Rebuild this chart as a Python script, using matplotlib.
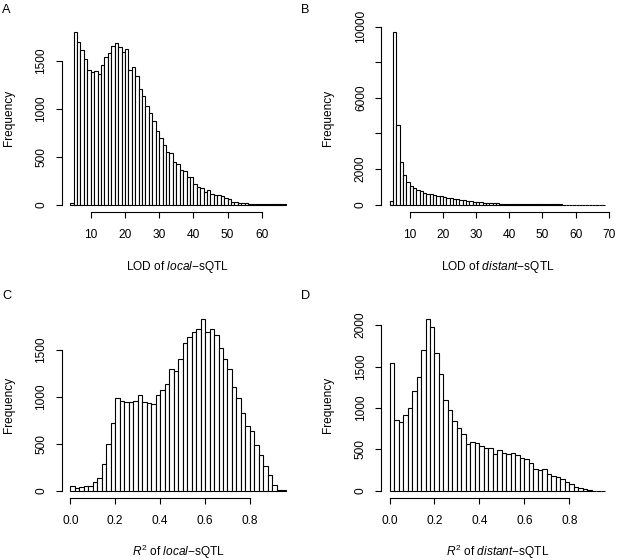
import matplotlib
matplotlib.use("Agg")
import matplotlib.pyplot as plt
import numpy as np

plt.rcParams['font.family'] = ['Liberation Sans', 'DejaVu Sans']
plt.rcParams['mathtext.fontset'] = 'custom'
plt.rcParams['mathtext.rm'] = 'Liberation Sans'
plt.rcParams['mathtext.it'] = 'Liberation Sans:italic'

# ---- data ----
# Panel A: LOD of local-sQTL, bins of width 1 starting at 4
lod_local_start = 4
lod_local_counts = [20, 1800, 1695, 1608, 1521, 1399, 1381, 1388, 1357, 1451,
                    1538, 1580, 1650, 1678, 1643, 1590, 1622, 1406, 1434, 1336,
                    1207, 1127, 1022, 952, 869, 764, 694, 624, 544, 534,
                    440, 422, 359, 345, 283, 283, 213, 185, 171, 126,
                    150, 108, 98, 98, 91, 73, 56, 31, 28, 21,
                    17, 14, 10, 10, 7, 5, 4, 3, 3, 2,
                    2, 1, 1]
# Panel B: LOD of distant-sQTL, bins of width 1 starting at 4
lod_distant_start = 4
lod_distant_counts = [190, 9718, 4482, 2392, 1638, 1243, 1055, 923, 810, 772,
                      678, 621, 584, 546, 508, 490, 452, 395, 358, 320,
                      300, 270, 240, 210, 185, 165, 145, 125, 110, 95,
                      85, 75, 65, 55, 48, 42, 36, 31, 27, 23,
                      20, 17, 15, 13, 11, 10, 9, 8, 7, 6,
                      5, 5, 4, 4, 3, 3, 3, 2, 2, 2,
                      2, 1, 1, 1, 1]
# Panel C: R^2 of local-sQTL, bins of width 0.02 starting at 0
r2_local_counts = [53, 32, 43, 57, 50, 92, 139, 284, 501, 725,
                   988, 960, 942, 949, 960, 1024, 942, 931, 924, 1020,
                   1077, 1134, 1294, 1276, 1401, 1578, 1642, 1695, 1720, 1831,
                   1688, 1720, 1660, 1525, 1401, 1294, 1109, 985, 825, 693,
                   636, 487, 387, 267, 167, 64, 14, 7]
# Panel D: R^2 of distant-sQTL, bins of width 0.02 starting at 0
r2_distant_counts = [1545, 853, 833, 913, 1006, 1203, 1376, 1706, 2076, 1980,
                     1666, 1416, 1103, 982, 841, 761, 684, 571, 588, 575,
                     539, 523, 523, 451, 491, 463, 451, 463, 431, 398,
                     382, 338, 270, 250, 262, 201, 181, 169, 141, 113,
                     85, 52, 32, 24, 12, 4, 2, 1]

lod_a_xticks = [10, 20, 30, 40, 50, 60]
lod_b_xticks = [10, 20, 30, 40, 50, 60, 70]
r2_xticks = [0.0, 0.2, 0.4, 0.6, 0.8]
r2_xticklabels = ['0.0', '0.2', '0.4', '0.6', '0.8']
a_yticks = [0, 500, 1000, 1500]
b_yticks = [0, 2000, 4000, 6000, 8000, 10000]
b_yticklabels = ['0', '2000', '', '6000', '', '10000']
c_yticks = [0, 500, 1000, 1500]
d_yticks = [0, 500, 1000, 1500, 2000]

W, H = 617, 560
fig = plt.figure(figsize=(W / 100, H / 100), dpi=100)

FS = 8.6
LW = 0.8


def px_axes(l, t, r, b):
    return fig.add_axes([l / W, 1 - b / H, (r - l) / W, (b - t) / H])


def r_hist(ax, edges, counts, width, xticks, xticklabels, yticks, yticklabels,
           xlabel, xlab_y):
    edges = np.asarray(edges, dtype=float)
    counts = np.asarray(counts, dtype=float)
    ax.bar(edges, counts, width=width, align='edge', facecolor='white',
           edgecolor='black', linewidth=LW)
    xmin, xmax = edges[0], edges[-1] + width
    pad = 0.04 * (xmax - xmin)
    ax.set_xlim(xmin - pad, xmax + pad)
    ymax = counts.max()
    ax.set_ylim(-0.04 * ymax, 1.04 * ymax)
    for s in ('top', 'right'):
        ax.spines[s].set_visible(False)
    ax.spines['left'].set_bounds(yticks[0], yticks[-1])
    ax.spines['bottom'].set_bounds(xticks[0], xticks[-1])
    ax.spines['left'].set_linewidth(LW)
    ax.spines['bottom'].set_linewidth(LW)
    ax.set_xticks(xticks)
    ax.set_xticklabels(xticklabels)
    ax.set_yticks(yticks)
    ax.set_yticklabels(yticklabels, rotation=90, va='center')
    ax.tick_params(axis='both', length=4.3, width=LW, labelsize=FS, direction='out')
    ax.tick_params(axis='x', pad=8.3)
    ax.tick_params(axis='y', pad=6)
    ax.set_xlabel(xlabel, fontsize=FS)
    ax.xaxis.set_label_coords(0.5, xlab_y)
    ax.xaxis.label.set_va('center')
    ax.set_ylabel('Frequency', fontsize=FS)
    ax.yaxis.set_label_coords(-0.228, 0.5)
    ax.yaxis.label.set_va('center')


# Panel A
axA = px_axes(61.6, 24.8, 294.3, 211.5)
edgesA = lod_local_start + np.arange(len(lod_local_counts))
r_hist(axA, edgesA, lod_local_counts, 1.0, lod_a_xticks, [str(v) for v in lod_a_xticks],
       a_yticks, [str(v) for v in a_yticks], 'LOD of $\\mathit{local}$\u2212sQTL', -0.295)

# Panel B
axB = px_axes(381.2, 24.8, 614.0, 211.5)
edgesB = lod_distant_start + np.arange(len(lod_distant_counts))
r_hist(axB, edgesB, lod_distant_counts, 1.0, lod_b_xticks, [str(v) for v in lod_b_xticks],
       b_yticks, b_yticklabels, 'LOD of $\\mathit{distant}$\u2212sQTL', -0.295)

# Panel C
axC = px_axes(61.7, 312.0, 294.5, 497.8)
edgesC = 0.02 * np.arange(len(r2_local_counts))
r_hist(axC, edgesC, r2_local_counts, 0.02, r2_xticks, r2_xticklabels,
       c_yticks, [str(v) for v in c_yticks], '$R^2$ of $\\mathit{local}$\u2212sQTL', -0.29)

# Panel D
axD = px_axes(380.9, 312.0, 614.0, 497.8)
edgesD = 0.02 * np.arange(len(r2_distant_counts))
r_hist(axD, edgesD, r2_distant_counts, 0.02, r2_xticks, r2_xticklabels,
       d_yticks, [str(v) for v in d_yticks], '$R^2$ of $\\mathit{distant}$\u2212sQTL', -0.29)

# panel letters
for letter, x, y in [('A', 2.0, 12.7), ('B', 301.2, 12.7), ('C', 2.0, 299.0), ('D', 301.2, 299.0)]:
    fig.text(x / W, 1 - y / H, letter, fontsize=9.2, ha='left', va='baseline')

fig.savefig('out.png', dpi=100)
